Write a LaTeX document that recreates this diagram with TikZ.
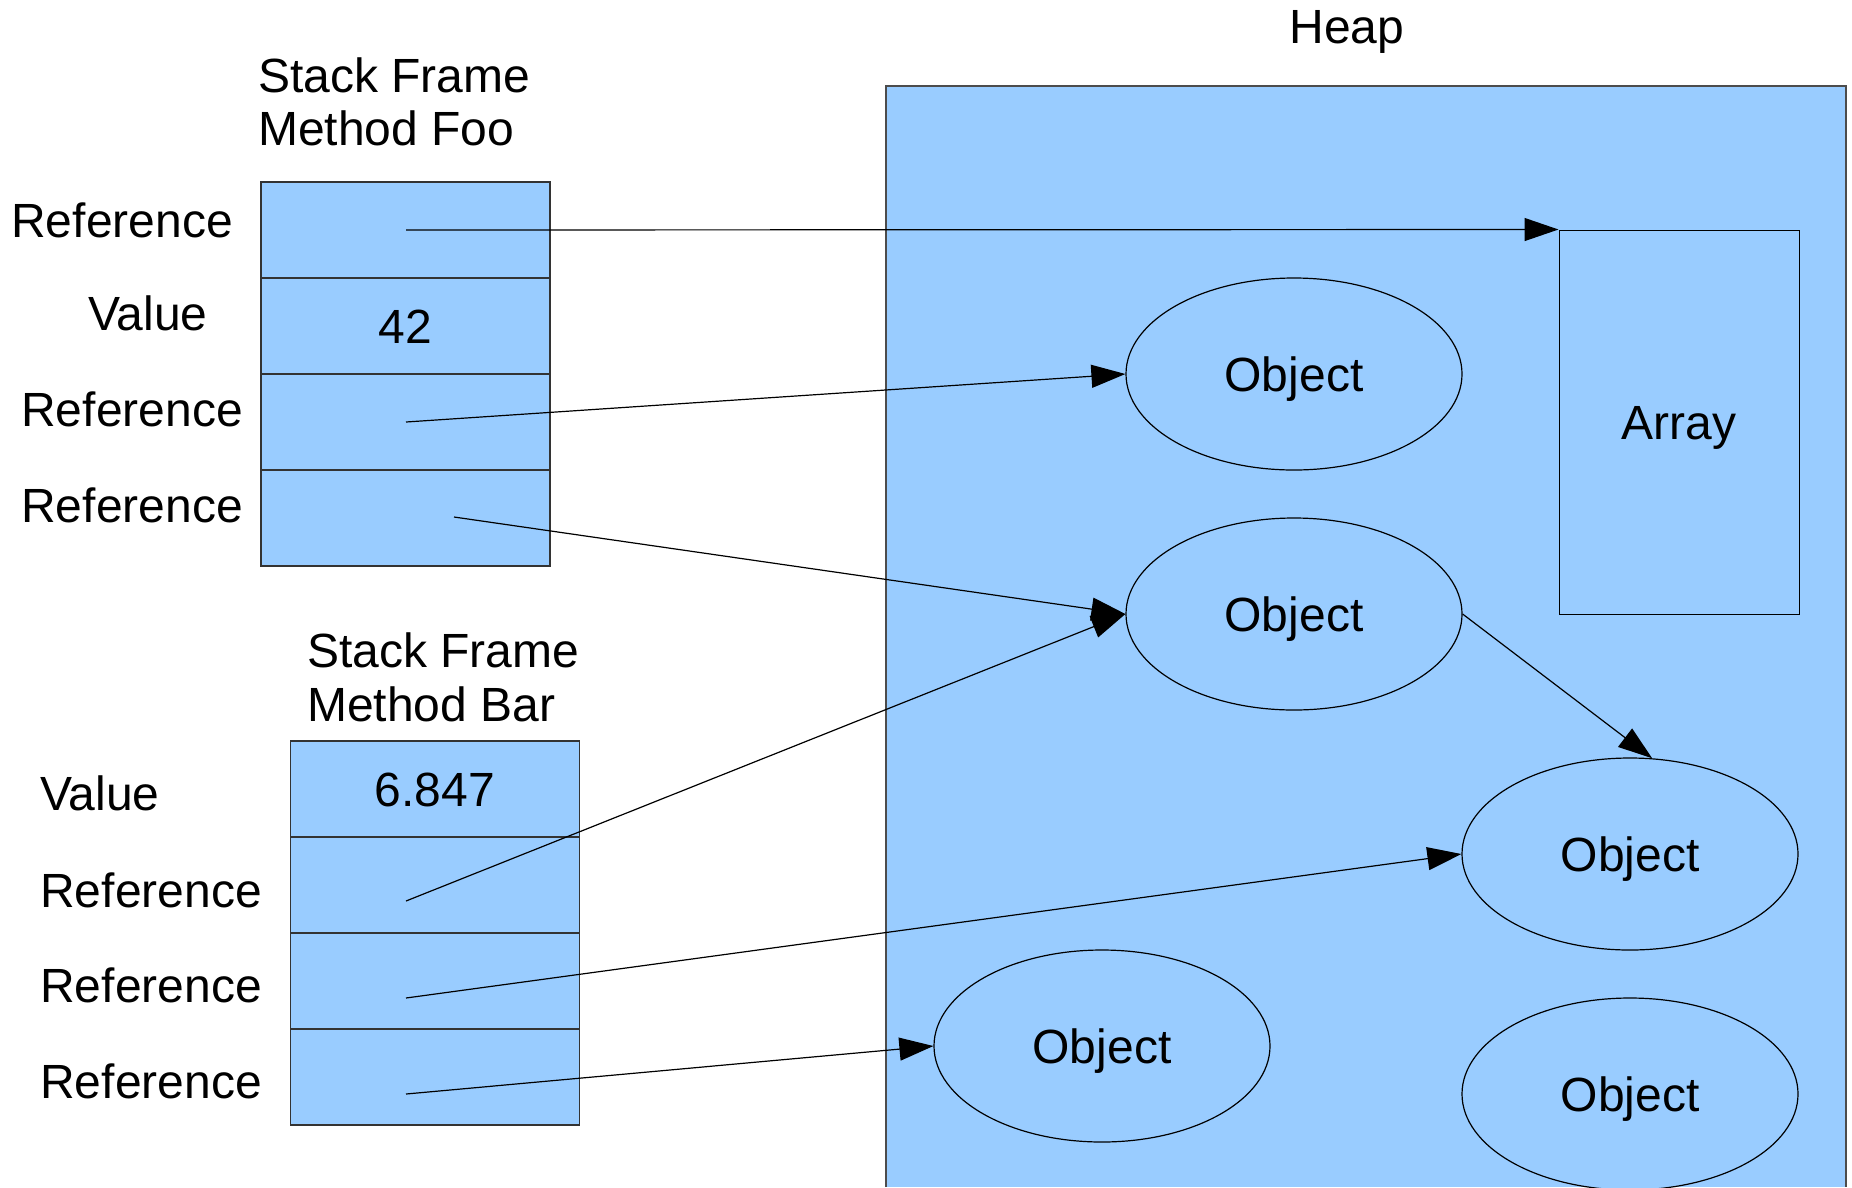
\documentclass[tikz,border=0pt]{standalone}
\usepackage{fontspec}
\setmainfont{Liberation Sans}
\usepackage{tikz}
\usetikzlibrary{shapes.geometric,arrows.meta}

\definecolor{heapblue}{RGB}{153,204,255}

\begin{document}
\begin{tikzpicture}[x=1pt, y=-1pt,
  cell/.style={draw=black!80, line width=1.6pt, fill=heapblue,
    minimum width=289pt, minimum height=96pt, inner sep=0pt, outer sep=0pt,
    text height=0.72em, text depth=0pt},
  obj/.style={ellipse, draw=black, line width=1.2pt, fill=heapblue,
    minimum width=336pt, minimum height=192pt, inner sep=0pt,
    text height=0.72em, text depth=0pt},
  arr/.style={draw=black, line width=1pt, fill=heapblue,
    minimum width=240pt, minimum height=384pt, inner sep=0pt,
    text height=0.72em, text depth=0pt},
  ref/.style={line width=1.2pt, -{Triangle[length=34pt,width=23pt]}},
  lbl/.style={anchor=base west, inner sep=0pt}]

  \fontsize{48}{54}\selectfont

  \useasboundingbox (0,0) rectangle (1852,1187);
  \clip (0,0) rectangle (1852,1187);

  % heap area, runs off the bottom
  \fill[heapblue] (886,86) rectangle (1846,1187);
  \draw[black!70, line width=2pt] (886,1187) |- (1846,86) -- (1846,1187);
  \node[lbl, anchor=base] (heaptitle) at (1347,43) {Heap};

  % frame of foo
  \node[lbl] (footitle) at (258,92) {Stack Frame};
  \node[lbl] (foomethod) at (258,145) {Method Foo};

  \node[cell] (f1) at (405.5,230) {};
  \node[cell] (f2) at (405.5,326) {42};
  \node[cell] (f3) at (405.5,422) {};
  \node[cell] (f4) at (405.5,518) {};

  \node[lbl, anchor=base east] (f1lbl) at (233,237) {Reference};
  \node[lbl, anchor=base] (f2lbl) at (148,330) {Value};
  \node[lbl, anchor=base east] (f3lbl) at (243,426) {Reference};
  \node[lbl, anchor=base east] (f4lbl) at (243,522) {Reference};

  % frame of bar
  \node[lbl] (bartitle) at (307,667) {Stack Frame};
  \node[lbl] (barmethod) at (307,721) {Method Bar};

  \node[cell] (b1) at (435,789) {6.847};
  \node[cell] (b2) at (435,885) {};
  \node[cell] (b3) at (435,981) {};
  \node[cell] (b4) at (435,1077) {};

  \node[lbl] (b1lbl) at (40,810) {Value};
  \node[lbl, anchor=base east] (b2lbl) at (262,907) {Reference};
  \node[lbl, anchor=base east] (b3lbl) at (262,1002) {Reference};
  \node[lbl, anchor=base east] (b4lbl) at (262,1098) {Reference};

  % things on the heap
  \node[arr] (array) at (1679,422) {Array};
  \node[obj] (obj1) at (1294,374) {Object};
  \node[obj] (obj2) at (1294,614) {Object};
  \node[obj] (obj3) at (1630,854) {Object};
  \node[obj] (obj4) at (1102,1046) {Object};
  \node[obj] (obj5) at (1630,1094) {Object};

  % where the references start
  \coordinate (f1ref) at (406,230);
  \coordinate (f3ref) at (406,422);
  \coordinate (f4ref) at (454,517);
  \coordinate (b2ref) at (406,901);
  \coordinate (b3ref) at (406,998);
  \coordinate (b4ref) at (406,1094);

  \draw[ref] (f1ref) -- (array.north west);
  \draw[ref] (f3ref) -- (obj1.west);
  \draw[ref] (f4ref) -- (obj2.west);
  \draw[ref] (b2ref) -- (obj2.west);
  \draw[ref] (b3ref) -- (obj3.west);
  \draw[ref] (b4ref) -- (obj4.west);
  \draw[ref] (obj2.east) -- (obj3.77);

\end{tikzpicture}
\end{document}
